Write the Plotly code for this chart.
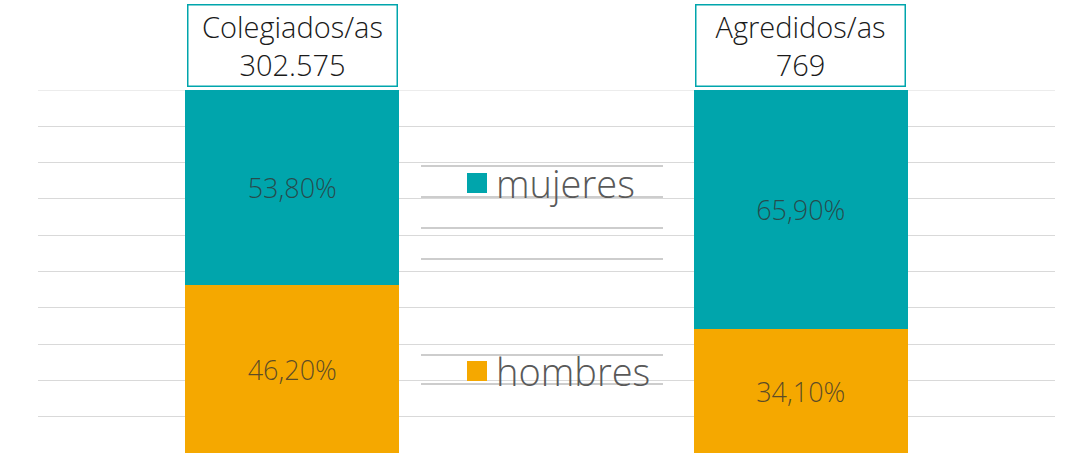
import plotly.graph_objects as go

categories = ["Colegiados/as", "Agredidos/as"]
totals = ["302.575", "769"]
hombres = [46.2, 34.1]
mujeres = [53.8, 65.9]
series_names = ["hombres", "mujeres"]

TEAL = "#00A5AC"
ORANGE = "#F5A800"
FONT = "Open Sans"

def fmt(v):
    return f"{v:.2f}%".replace(".", ",")

fig = go.Figure()
fig.add_trace(go.Bar(x=categories, y=hombres, name=series_names[0], marker_color=ORANGE,
                     marker_line_width=0, width=0.42,
                     text=[fmt(v) for v in hombres], textposition="inside", insidetextanchor="middle",
                     textfont=dict(family=FONT, size=27, color="rgba(50,50,50,0.78)", weight=300),
                     showlegend=False))
fig.add_trace(go.Bar(x=categories, y=mujeres, name=series_names[1], marker_color=TEAL,
                     marker_line_width=0, width=0.42,
                     text=[fmt(v) for v in mujeres], textposition="inside", insidetextanchor="middle",
                     textfont=dict(family=FONT, size=27, color="rgba(50,50,50,0.78)", weight=300),
                     showlegend=False))

# title boxes above bars
for c, t in zip(categories, totals):
    fig.add_annotation(x=c, y=1, xref="x", yref="paper", yanchor="bottom", yshift=3,
                       text=f"{c}<br>{t}", showarrow=False, width=206, height=78,
                       bordercolor=TEAL, borderwidth=1.5, bgcolor="white",
                       font=dict(family=FONT, size=29, color="#1a1a1a", weight=300))

def py(y):
    return (453 - y) / 363
def px(x):
    return (x - 38) / 1017

# top gridline (hidden by plot edge otherwise)
fig.add_shape(type="line", xref="paper", yref="y", x0=0, x1=1, y0=100, y1=100,
              line=dict(color="#D9D9D9", width=1), layer="below")

# decorative lines in legend area
for yy in [166, 197, 228, 259, 355, 384]:
    fig.add_shape(type="line", xref="paper", yref="paper", x0=px(421), x1=px(663),
                  y0=py(yy), y1=py(yy), line=dict(color="#BDBDBD", width=1.5))

# custom legend
leg = [(series_names[1], TEAL, 183), (series_names[0], ORANGE, 371)]
for name, col, yc in leg:
    fig.add_shape(type="rect", xref="paper", yref="paper", x0=px(467), x1=px(487),
                  y0=py(yc + 10), y1=py(yc - 10), fillcolor=col, line_width=0)
    fig.add_annotation(x=px(494), y=py(yc), xref="paper", yref="paper", xanchor="left",
                       yanchor="middle", text=name, showarrow=False,
                       font=dict(family=FONT, size=38, color="#595959", weight=300))

fig.update_layout(
    barmode="stack", width=1090, height=459,
    margin=dict(l=38, r=35, t=90, b=6),
    plot_bgcolor="white", paper_bgcolor="white",
    xaxis=dict(showticklabels=False, showgrid=False, zeroline=False, range=[-0.5, 1.5]),
    yaxis=dict(range=[0, 100], dtick=10, showticklabels=False, gridcolor="#D9D9D9",
               gridwidth=1, zeroline=False),
)
fig.write_html("out.html")
